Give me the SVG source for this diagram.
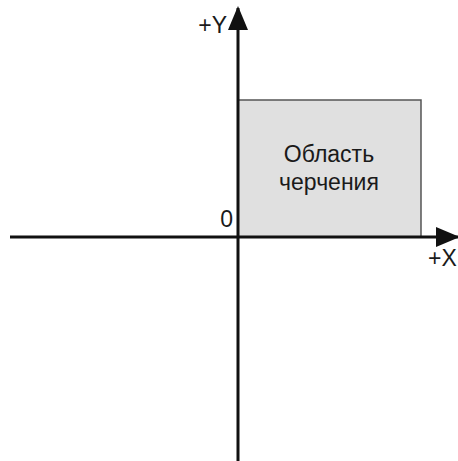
<svg xmlns="http://www.w3.org/2000/svg" width="458" height="461" viewBox="0 0 458 461">
<style>
.axis{stroke:#111;stroke-width:3;fill:none}
.lbl{font-family:"Liberation Sans",Arial,sans-serif;font-size:23px;fill:#1a1a1a}
</style>
<defs>
<marker id="ah" markerUnits="userSpaceOnUse" markerWidth="24" markerHeight="20" refX="22" refY="10" orient="auto">
<path d="M0,0 L24,10 L0,20 Z" fill="#111"/>
</marker>
</defs>
<rect width="458" height="461" fill="#fff"/>
<g id="area">
<rect x="238" y="100" width="183" height="137" fill="#e0e0e0" stroke="#555" stroke-width="1.5"/>
<text class="lbl" x="329" y="162" text-anchor="middle">Область</text>
<text class="lbl" x="329" y="190" text-anchor="middle">черчения</text>
</g>
<g id="connectors">
<line class="axis" x1="10" y1="237" x2="458" y2="237" marker-end="url(#ah)"/>
<line class="axis" x1="238" y1="461" x2="238" y2="8" marker-end="url(#ah)"/>
</g>
<g id="labels">
<text class="lbl" x="227" y="33" text-anchor="end">+Y</text>
<text class="lbl" x="233" y="227" text-anchor="end">0</text>
<text class="lbl" x="428" y="266">+X</text>
</g>
</svg>
